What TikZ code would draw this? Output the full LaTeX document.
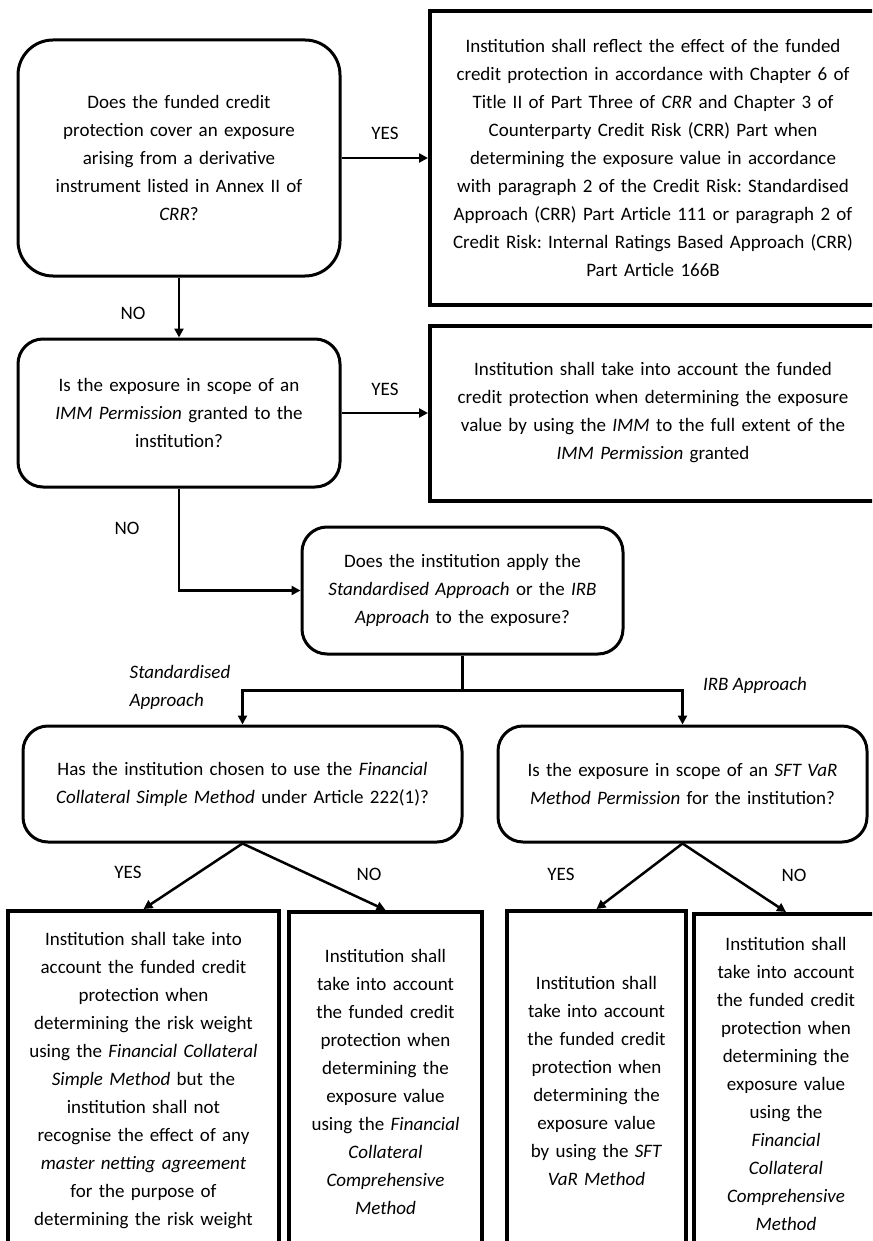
\documentclass[tikz,border=0pt]{standalone}
\usepackage{fontspec}
\setmainfont{Carlito}
\usetikzlibrary{positioning,arrows.meta}

\tikzset{
    question/.style={draw, line width=3pt, rounded corners=25pt, align=center, inner xsep=6pt, inner ysep=0pt},
    answer/.style={draw, line width=4pt, align=center, inner xsep=6pt, inner ysep=0pt},
    result/.style={answer, minimum height=340pt, anchor=north},
    flow/.style={->, line width=2.5pt},
    lbl/.style={inner sep=0pt, align=left}
}

\begin{document}
\frenchspacing
\begin{tikzpicture}[x=1pt, y=1pt, font=\fontsize{19}{28}\selectfont, >={Triangle[length=9pt, width=9pt]}]

    \useasboundingbox (0,0) rectangle (872,-1241);
    \clip (0,0) rectangle (872,-1241);

    % derivative / IMM questions
    \node[question, rounded corners=35pt, text width=310pt, minimum height=236pt] (q1) at (179,-158)
        {Does the funded credit\\ protection cover an exposure\\ arising from a derivative\\ instrument listed in Annex II of\\ \textit{CRR}?};
    \node[answer, text width=434pt, minimum height=293pt] (a1) at (653,-158)
        {Institution shall reflect the effect of the funded\\
         credit protection in accordance with Chapter 6 of\\
         Title II of Part Three of \textit{CRR} and Chapter 3 of\\
         Counterparty Credit Risk (CRR) Part when\\
         determining the exposure value in accordance\\
         with paragraph 2 of the Credit Risk: Standardised\\
         Approach (CRR) Part Article 111 or paragraph 2 of\\
         Credit Risk: Internal Ratings Based Approach (CRR)\\
         Part Article 166B};

    \node[question, text width=310pt, minimum height=148pt] (q2) at (179,-413)
        {Is the exposure in scope of an\\ \textit{IMM Permission} granted to the\\ institution?};
    \node[answer, text width=434pt, minimum height=175pt] (a2) at (653,-413)
        {Institution shall take into account the funded\\
         credit protection when determining the exposure\\
         value by using the \textit{IMM} to the full extent of the\\
         \textit{IMM Permission} granted};

    % approach
    \node[question, text width=309pt, minimum height=127pt] (q3) at (462.5,-590.5)
        {Does the institution apply the\\ \textit{Standardised Approach} or the \textit{IRB}\\ \textit{Approach} to the exposure?};

    \node[question, text width=427pt, minimum height=116pt] (q4) at (242.5,-784)
        {Has the institution chosen to use the \textit{Financial}\\ \textit{Collateral Simple Method} under Article 222(1)?};
    \node[question, text width=357pt, minimum height=116pt] (q5) at (682.5,-784)
        {Is the exposure in scope of an \textit{SFT VaR}\\ \textit{Method Permission} for the institution?};

    % results
    \node[result, text width=259pt] (r1) at (143.5,-909)
        {Institution shall take into\\ account the funded credit\\ protection when\\ determining the risk weight\\
         using the \textit{Financial Collateral}\\ \textit{Simple Method} but the\\ institution shall not\\
         recognise the effect of any\\ \textit{master netting agreement}\\ for the purpose of\\ determining the risk weight};
    \node[result, text width=181pt] (r2) at (385.5,-910)
        {Institution shall\\ take into account\\ the funded credit\\ protection when\\ determining the\\ exposure value\\
         using the \textit{Financial}\\ \textit{Collateral}\\ \textit{Comprehensive}\\ \textit{Method}};
    \node[result, text width=167pt] (r3) at (596.5,-909)
        {Institution shall\\ take into account\\ the funded credit\\ protection when\\ determining the\\ exposure value\\
         by using the \textit{SFT}\\ \textit{VaR Method}};
    \node[result, text width=172pt] (r4) at (786,-912)
        {Institution shall\\ take into account\\ the funded credit\\ protection when\\ determining the\\ exposure value\\
         using the\\ \textit{Financial}\\ \textit{Collateral}\\ \textit{Comprehensive}\\ \textit{Method}};

    \path[flow]
        (q1) edge (a1)
        (q1) edge (q2)
        (q2) edge (a2);

    \draw[flow] (q2.south) |- (q3.west);
    \draw[line width=2.5pt] (q3.south) -- ++(0,-35) coordinate (fork);
    \draw[flow] (fork) -| (q4.north);
    \draw[flow] (fork) -| (q5.north);

    \path[flow]
        (q4.south) edge (r1.north)
        (q4.south) edge (r2.north)
        (q5.south) edge (r3.north)
        (q5.south) edge (r4.north);

    % labels
    \node[lbl] (yes1) at (385,-133) {YES};
    \node[lbl] (no1) at (133,-313) {NO};
    \node[lbl] (yes2) at (385,-389) {YES};
    \node[lbl] (no2) at (127,-528) {NO};
    \node[lbl] (std) at (180,-687) {\textit{Standardised}\\ \textit{Approach}};
    \node[lbl] (irb) at (755,-685) {\textit{IRB Approach}};
    \node[lbl] (yes3) at (128,-872) {YES};
    \node[lbl] (no3) at (369,-874) {NO};
    \node[lbl] (yes4) at (561,-874) {YES};
    \node[lbl] (no4) at (794,-875) {NO};

\end{tikzpicture}
\end{document}
